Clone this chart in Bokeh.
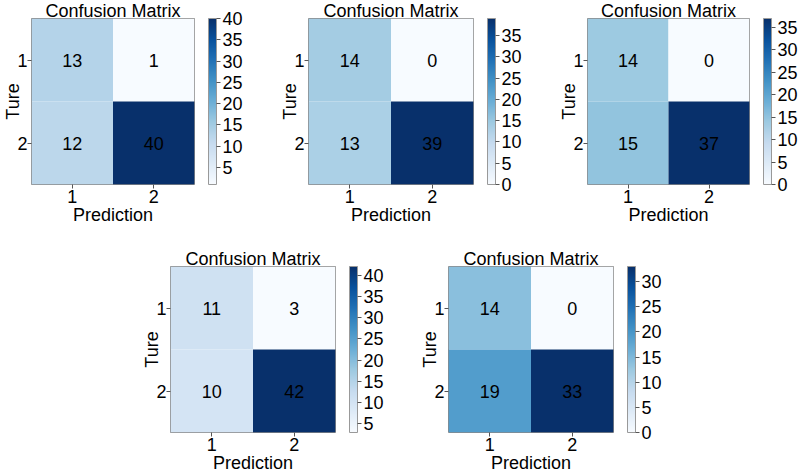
from bokeh.plotting import figure
from bokeh.layouts import column, row
from bokeh.models import (ColumnDataSource, LinearColorMapper, ColorBar, Range1d,
                          FixedTicker, SingleIntervalTicker, LinearAxis)
from bokeh.palettes import Blues256
from bokeh.transform import transform
from bokeh.core.properties import value
from bokeh.embed import file_html
from bokeh.resources import INLINE

# Confusion matrices: rows = true class (1, 2), columns = predicted class (1, 2)
classes = [1, 2]
cm_a = [[13, 1], [12, 40]]
cm_b = [[14, 0], [13, 39]]
cm_c = [[14, 0], [15, 37]]
cm_d = [[11, 3], [10, 42]]
cm_e = [[14, 0], [19, 33]]

FONT = "Liberation Sans"
FS = "18px"
PALETTE = list(Blues256)[::-1]  # light -> dark
FW = 166                        # heatmap frame width


def confusion_panel(cm, left, right, top, bottom, fh):
    xs, ys, vals = [], [], []
    for i, t in enumerate(classes):
        for j, pcls in enumerate(classes):
            xs.append(pcls)
            ys.append(t)
            vals.append(cm[i][j])
    src = ColumnDataSource(dict(x=xs, y=ys, v=vals, label=[str(v) for v in vals]))
    mapper = LinearColorMapper(palette=PALETTE, low=min(vals), high=max(vals))

    p = figure(width=left + FW + right, height=top + fh + bottom,
               min_border_left=left, min_border_right=right,
               min_border_top=top, min_border_bottom=bottom,
               output_backend="svg", toolbar_location=None,
               x_range=Range1d(0.5, 2.5), y_range=Range1d(2.5, 0.5))
    p.rect(x="x", y="y", width=1, height=1, source=src,
           fill_color=transform("v", mapper), line_color=None)
    p.text(x="x", y="y", text="label", source=src, text_align="center",
           text_baseline="middle", text_font=value(FONT), text_font_size=FS,
           text_color="black")

    p.title.text = "Confusion Matrix"
    p.title.align = "center"
    p.title.text_font = FONT
    p.title.text_font_size = FS
    p.title.text_font_style = "normal"
    p.title.text_color = "black"
    p.title.standoff = -4

    p.xaxis.axis_label = "Prediction"
    p.yaxis.axis_label = "Ture"
    for ax in (p.xaxis[0], p.yaxis[0]):
        ax.ticker = FixedTicker(ticks=classes)
        ax.axis_line_color = None
        ax.major_tick_in = 0
        ax.major_tick_out = 4
        ax.major_tick_line_color = "#555555"
        ax.minor_tick_line_color = None
        ax.major_label_standoff = 0
        ax.major_label_text_font = FONT
        ax.major_label_text_font_size = FS
        ax.major_label_text_color = "black"
        ax.axis_label_text_font = FONT
        ax.axis_label_text_font_size = FS
        ax.axis_label_text_font_style = "normal"
        ax.axis_label_text_color = "black"
    p.xaxis.major_label_standoff = 1
    p.xaxis.axis_label_standoff = -1
    p.yaxis.axis_label_standoff = -9
    p.yaxis.major_label_orientation = "horizontal"

    p.xgrid.grid_line_color = None
    p.ygrid.grid_line_color = None
    p.outline_line_color = "#888888"
    p.outline_line_width = 1

    # blank axis that only reserves a gap between the heatmap and its colour bar
    gap = LinearAxis(ticker=FixedTicker(ticks=[1.5]), major_tick_out=14,
                     major_tick_in=0, major_label_overrides={1.5: ""},
                     major_label_standoff=0, axis_line_color=None,
                     major_tick_line_color=None, minor_tick_line_color=None)
    p.add_layout(gap, "right")

    cb = ColorBar(color_mapper=mapper, ticker=SingleIntervalTicker(interval=5),
                  width=8, padding=0, label_standoff=2,
                  major_label_text_font=FONT, major_label_text_font_size=FS,
                  major_label_text_color="black", major_tick_out=4,
                  major_tick_in=0, major_tick_line_color="#555555",
                  minor_tick_line_color=None, bar_line_color="#999999",
                  border_line_color=None, background_fill_color=None)
    p.add_layout(cb, "right")
    return p


f1 = confusion_panel(cm_a, 29, 50, 16, 46, 168)
f2 = confusion_panel(cm_b, 63, 50, 16, 46, 168)
f3 = confusion_panel(cm_c, 63, 47, 16, 46, 168)
f4 = confusion_panel(cm_d, 170, 50, 36, 43, 166)
f5 = confusion_panel(cm_e, 62, 50, 36, 43, 166)

layout = column(row(f1, f2, f3), row(f4, f5))

open("out.html", "w").write(file_html(layout, INLINE))
